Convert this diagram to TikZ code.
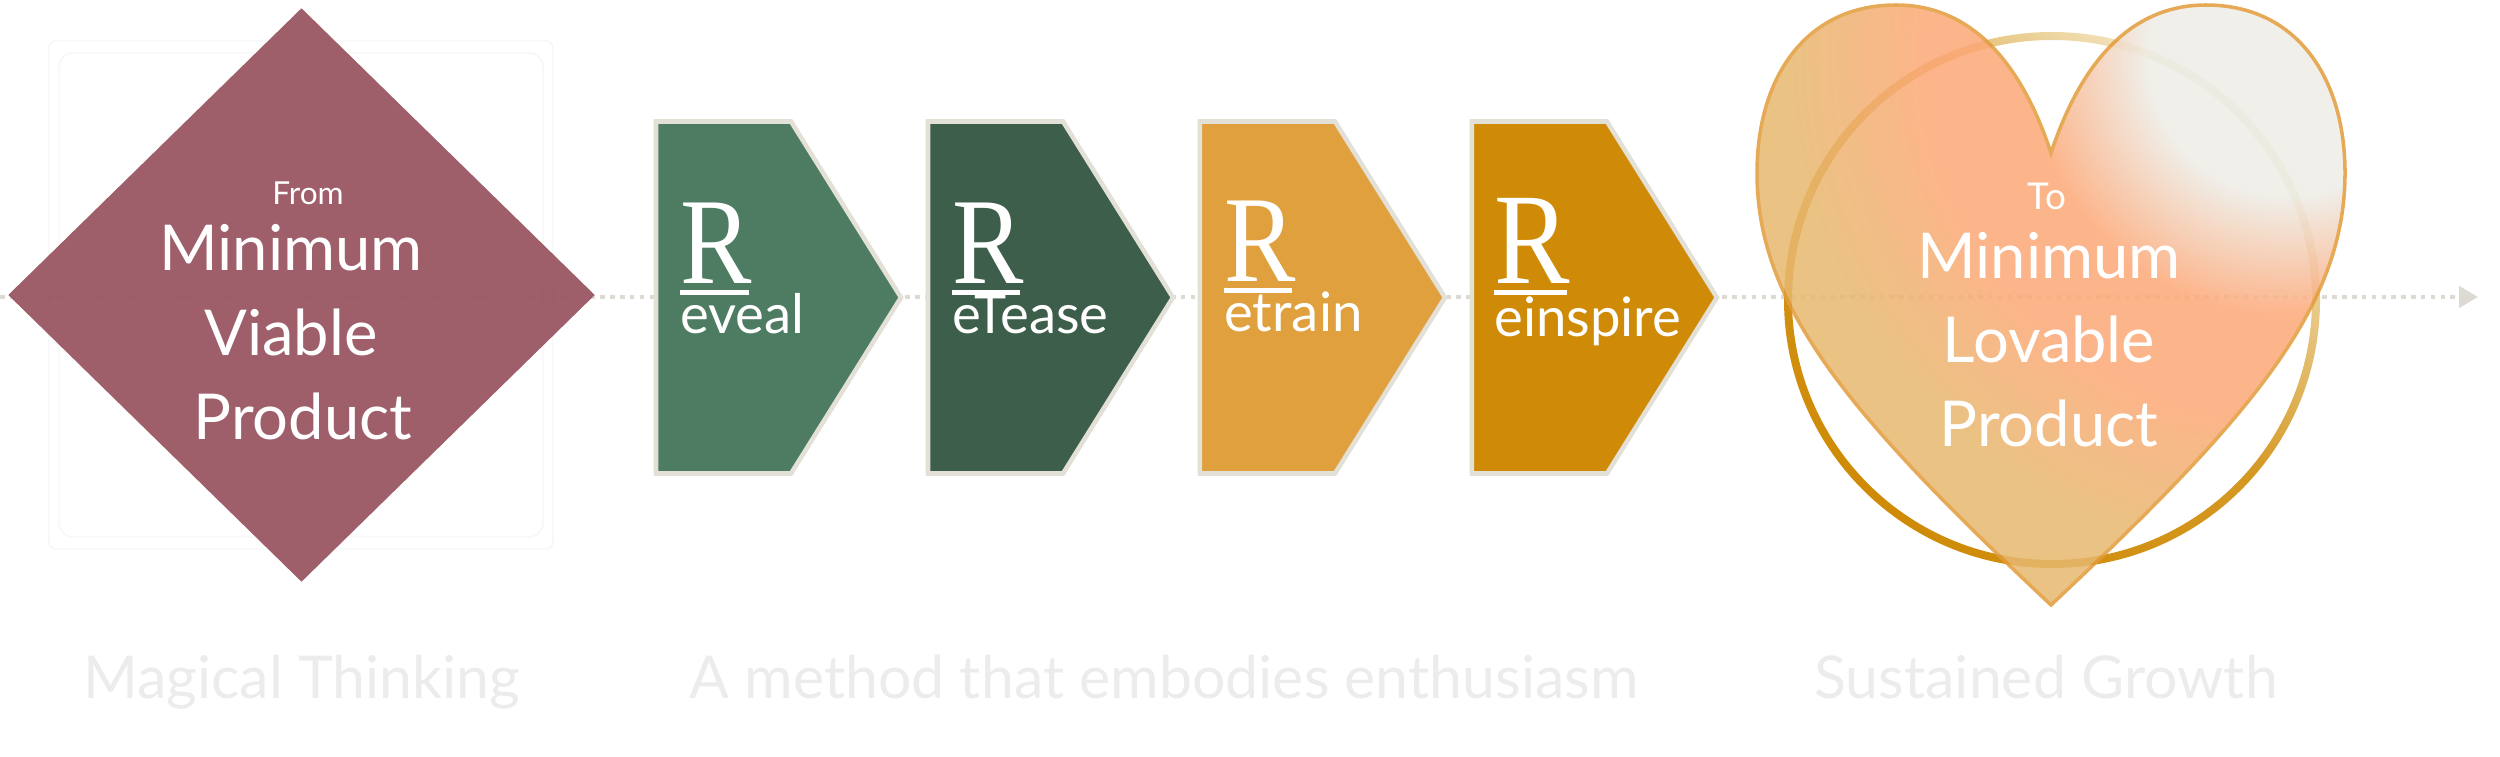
\documentclass[tikz,border=0pt]{standalone}
\usepackage{fontspec}
\setmainfont{Lato}
\newfontfamily\serifR{Liberation Serif}[FakeStretch = 0.87]
\usetikzlibrary{positioning,shapes.geometric,shapes.symbols,arrows.meta}

\definecolor{mvprose}{HTML}{9A5864}
\definecolor{revealgreen}{HTML}{4E7C63}
\definecolor{releasegreen}{HTML}{3D5E4B}
\definecolor{retrainamber}{HTML}{E0A03E}
\definecolor{reinspiregold}{HTML}{CF8B07}
\definecolor{chevedge}{HTML}{E3E0D7}
\definecolor{heartgold}{HTML}{E7B86F}
\definecolor{heartsalmon}{HTML}{FCA877}
\definecolor{heartpale}{HTML}{EDECE6}
\definecolor{heartedge}{HTML}{E29B3A}
\definecolor{ringgold}{HTML}{CF8B07}
\definecolor{ringpale}{HTML}{F4E8C8}
\definecolor{flowgray}{HTML}{DDDAD3}
\definecolor{ghostgray}{HTML}{ECECEC}
\definecolor{framegray}{HTML}{F6F6F6}

\pgfdeclareradialshading{lovefill}{\pgfpointorigin}{color(0bp)=(heartpale);
	color(7bp)=(heartpale); color(13bp)=(heartsalmon); color(18bp)=(heartsalmon);
	color(25bp)=(heartgold); color(50bp)=(heartgold)}

% outline of the heart, around (0,0)
\newcommand\lovepath{(0,1.44) .. controls (-0.3,2.35) and (-0.8,2.92) ..
	(-1.55,2.92) .. controls (-2.45,2.92) and (-2.94,2.2) .. (-2.94,1.24)
	.. controls (-2.94,-0.1) and (-2.0,-1.2) .. (0,-3.08)
	.. controls (2.0,-1.2) and (2.94,-0.1) .. (2.94,1.24)
	.. controls (2.94,2.2) and (2.45,2.92) .. (1.55,2.92)
	.. controls (0.8,2.92) and (0.3,2.35) .. (0,1.44) -- cycle}

\tikzset{
	mvpbox/.style = {diamond, fill = mvprose, fill opacity = 0.96, minimum
		width = 5.87cm, minimum height = 5.74cm, inner sep = 0pt},
	chevron/.style = {signal, signal to = east, signal pointer angle = 116,
		minimum width = 2.45cm, minimum height = 3.52cm, inner sep = 0pt, draw =
		chevedge, line width = 1.3pt},
	bigword/.style = {text = white, font = \fontsize{18}{20}\selectfont, inner
		sep = 0pt, anchor = base},
	rletter/.style = {text = white, font = \serifR\fontsize{35}{35}\selectfont,
		inner sep = 0pt, anchor = base west},
	rword/.style = {text = white, font = \fontsize{15.5}{17}\selectfont, inner
		sep = 0pt, anchor = base west},
	rbar/.style = {white, line width = 1.2pt},
	flow/.style = {flowgray, line width = 1.3pt, dash pattern = on 1.3pt off
		1.5pt, -{Triangle[length = 0.19cm, width = 0.21cm]}},
	ghost/.style = {text = ghostgray, font = \fontsize{16.8}{20}\selectfont,
		inner sep = 0pt, anchor = base}
}

\begin{document}
\begin{tikzpicture}
\useasboundingbox (0,0) rectangle (25,7.56);

% faint frame behind the diamond
\draw [framegray, rounded corners = 2pt] (0.49,2.07) rectangle (5.53,7.15);
\draw [framegray, rounded corners = 4pt] (0.59,2.19) rectangle (5.43,7.03);

\coordinate (flowstart) at (0,4.59);
\coordinate (flowend) at (24.78,4.59);
\draw [flow] (flowstart) -- (flowend);

% from
\node [mvpbox] (mvp) at (3.015,4.61) {};
\node [bigword, font = \fontsize{9}{10}\selectfont] (mvpfrom) at (3.08,5.51) {From};
\node [bigword] (mvpmin) at (2.91,4.85) {Minimum};
\node [bigword] (mvpviable) at (2.91,4.00) {Viable};
\node [bigword] (mvpproduct) at (3.03,3.16) {Product};

% the four steps
\node [chevron, fill = revealgreen] (reveal) at (7.235,4.585) {};
\node [chevron, fill = releasegreen, right = 0.22cm of reveal] (release) {};
\node [chevron, fill = retrainamber, right = 0.22cm of release] (retrain) {};
\node [chevron, fill = reinspiregold, right = 0.22cm of retrain] (reinspire) {};

\node [rletter] (revealR) at ([xshift = 0.26cm, yshift = 0.14cm]reveal.west) {R};
\node [rletter] (releaseR) at ([xshift = 0.26cm, yshift = 0.14cm]release.west) {R};
\node [rletter] (retrainR) at ([xshift = 0.26cm, yshift = 0.16cm]retrain.west) {R};
\node [rletter, font = \serifR\fontsize{37}{37}\selectfont] (reinspireR) at
	([xshift = 0.24cm, yshift = 0.14cm]reinspire.west) {R};

\foreach \step in {reveal, release, retrain, reinspire}
	\draw [rbar] ([yshift = -0.09cm]\step R.base west) -- ([yshift =
		-0.09cm, xshift = -0.04cm]\step R.base east);

\node [rword] (revealword) at ([yshift = -0.5cm]revealR.base west) {eveal};
\node [rword] (releaseword) at ([yshift = -0.5cm]releaseR.base west) {eTease};
\node [rword] (retrainword) at ([yshift = -0.5cm]retrainR.base west) {etrain};
\node [rword] (reinspireword) at ([yshift = -0.53cm]reinspireR.base west) {einspire};

% to
\coordinate (heart) at (20.51,4.59);
\coordinate (ring) at (20.52,4.56);
\shade [even odd rule, top color = ringpale, bottom color = ringgold, middle
	color = ringgold!85!ringpale, shading angle = -40] (ring) circle [radius =
	2.68] (ring) circle [radius = 2.60];
\begin{scope}[shift = {(heart)}, transparency group, opacity = 0.86]
	\fill [heartgold] \lovepath;
	\begin{scope}
		\clip \lovepath;
		\shade [shading = lovefill] (2.37,2.41) circle [radius = 5];
	\end{scope}
	\draw [heartedge, line width = 1pt] \lovepath;
\end{scope}
\node [bigword, font = \fontsize{10.5}{12}\selectfont] (mlpto) at (20.47,5.46) {To};
\node [bigword] (mlpmin) at (20.49,4.77) {Minimum};
\node [bigword] (mlplovable) at (20.49,3.93) {Lovable};
\node [bigword] (mlpproduct) at (20.49,3.09) {Product};

% captions
\node [ghost] (magical) at (3.02,0.58) {Magical Thinking};
\node [ghost] (method) at (11.64,0.58) {A method that embodies enthusiasm};
\node [ghost] (sustained) at (20.46,0.58) {Sustained Growth};
\end{tikzpicture}
\end{document}
